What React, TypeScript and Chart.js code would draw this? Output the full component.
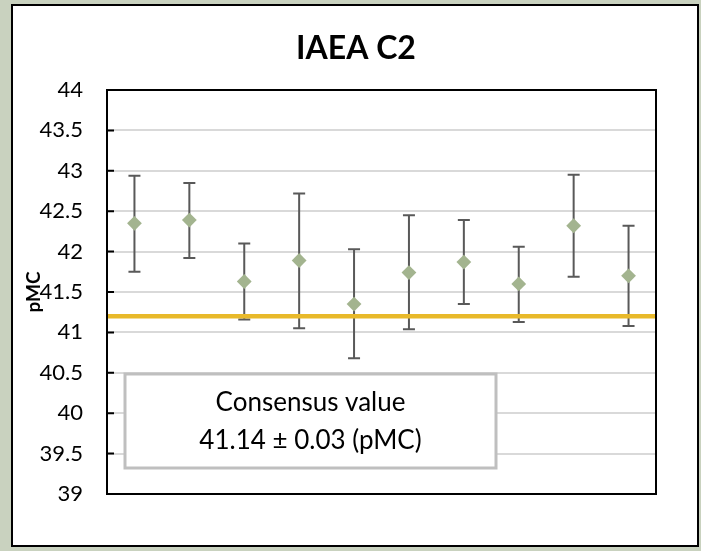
import { useEffect, useRef } from 'react';
import { Chart, registerables } from 'chart.js';

Chart.register(...registerables);

const categories = ['1', '2', '3', '4', '5', '6', '7', '8', '9', '10'];
const meanValues = [42.35, 42.39, 41.63, 41.89, 41.35, 41.74, 41.87, 41.6, 42.32, 41.7];
const upperValues = [42.94, 42.85, 42.1, 42.72, 42.03, 42.45, 42.39, 42.06, 42.95, 42.32];
const lowerValues = [41.75, 41.92, 41.16, 41.05, 40.68, 41.04, 41.35, 41.13, 41.69, 41.08];
const consensusLevel = 41.2;
const yTickValues = [39, 39.5, 40, 40.5, 41, 41.5, 42, 42.5, 43, 43.5, 44];
const titleText = 'IAEA C2';
const yAxisLabel = 'pMC';
const boxLines = ['Consensus value', '41.14 ± 0.03 (pMC)'];

const FONT = 'Lato, "Open Sans", "DejaVu Sans", sans-serif';

const decorPlugin = {
  id: 'decor',
  beforeDraw(chart: any) {
    const { ctx, width, height } = chart;
    ctx.save();
    ctx.fillStyle = '#c9d2bf';
    ctx.fillRect(0, 0, width, height);
    ctx.fillStyle = '#ffffff';
    ctx.fillRect(12, 5, 686, 541);
    ctx.strokeStyle = '#000000';
    ctx.lineWidth = 2;
    ctx.strokeRect(12, 5, 686, 541);
    ctx.restore();
  },
  beforeDatasetsDraw(chart: any) {
    const { ctx, chartArea: a, scales } = chart;
    const x = scales.x;
    const y = scales.y;
    ctx.save();
    ctx.strokeStyle = '#595959';
    ctx.lineWidth = 2;
    meanValues.forEach((_, i) => {
      const px = x.getPixelForValue(i);
      const yt = y.getPixelForValue(upperValues[i]);
      const yb = y.getPixelForValue(lowerValues[i]);
      ctx.beginPath();
      ctx.moveTo(px, yt);
      ctx.lineTo(px, yb);
      ctx.moveTo(px - 6, yt);
      ctx.lineTo(px + 6, yt);
      ctx.moveTo(px - 6, yb);
      ctx.lineTo(px + 6, yb);
      ctx.stroke();
    });
    const cy = y.getPixelForValue(consensusLevel);
    ctx.strokeStyle = '#e8b92a';
    ctx.lineWidth = 4.5;
    ctx.beginPath();
    ctx.moveTo(a.left, cy);
    ctx.lineTo(a.right, cy);
    ctx.stroke();
    ctx.restore();
  },
  afterDatasetsDraw(chart: any) {
    const { ctx, chartArea: a, scales } = chart;
    const y = scales.y;
    ctx.save();
    ctx.strokeStyle = '#000000';
    ctx.lineWidth = 2;
    ctx.strokeRect(a.left, a.top, a.right - a.left, a.bottom - a.top);
    ctx.beginPath();
    yTickValues.forEach((v) => {
      const py = y.getPixelForValue(v);
      ctx.moveTo(a.left, py);
      ctx.lineTo(a.left + 7, py);
    });
    ctx.stroke();
    const bl = a.left + 18;
    const br = a.left + 389;
    const bt = a.top + 284;
    const bb = a.top + 378;
    ctx.fillStyle = '#ffffff';
    ctx.fillRect(bl, bt, br - bl, bb - bt);
    ctx.strokeStyle = '#bfbfbf';
    ctx.lineWidth = 3;
    ctx.strokeRect(bl, bt, br - bl, bb - bt);
    ctx.fillStyle = '#000000';
    ctx.font = `26px ${FONT}`;
    ctx.textAlign = 'center';
    ctx.textBaseline = 'middle';
    const cx = (bl + br) / 2;
    ctx.fillText(boxLines[0], cx, bt + 29);
    ctx.fillText(boxLines[1], cx, bt + 67);
    ctx.restore();
  },
};

export default function App() {
  const ref = useRef<HTMLCanvasElement>(null);
  useEffect(() => {
    const canvas = ref.current!;
    const chart = new Chart(canvas, {
      type: 'line',
      data: {
        labels: categories,
        datasets: [
          {
            data: meanValues,
            showLine: false,
            pointStyle: 'rectRot',
            pointRadius: 7.4,
            pointHoverRadius: 7.4,
            pointBackgroundColor: '#a3b48f',
            pointBorderColor: '#a3b48f',
            pointBorderWidth: 0,
          },
        ],
      },
      options: {
        responsive: false,
        animation: false,
        devicePixelRatio: 1,
        events: [],
        layout: { padding: { left: 14, right: 3, top: 5, bottom: 57 } },
        plugins: {
          legend: { display: false },
          tooltip: { enabled: false },
          title: {
            display: true,
            text: titleText,
            color: '#000000',
            font: { family: FONT, size: 32, weight: 'bold' },
            padding: { top: 24.8, bottom: 21.8 },
          },
        },
        scales: {
          x: {
            type: 'category',
            offset: true,
            ticks: { display: false },
            grid: { display: false, drawTicks: false },
            border: { display: false },
            afterFit: (s: any) => {
              s.height = 0;
            },
          },
          y: {
            type: 'linear',
            min: 39,
            max: 44,
            afterBuildTicks: (s: any) => {
              s.ticks = yTickValues.map((v) => ({ value: v }));
            },
            ticks: {
              padding: 24,
              color: '#000000',
              font: { family: FONT, size: 22 },
              callback: (v: any) => String(v),
            },
            grid: { color: '#d9d9d9', lineWidth: 2, drawTicks: false },
            border: { display: false },
            title: {
              display: true,
              text: yAxisLabel,
              color: '#000000',
              font: { family: FONT, size: 19, weight: 'bold' },
              padding: { top: 8, bottom: 0 },
            },
            afterFit: (s: any) => {
              s.width = 93;
            },
          },
          yR: {
            type: 'linear',
            position: 'right',
            display: true,
            ticks: { display: false },
            grid: { display: false, drawTicks: false },
            border: { display: false },
            afterFit: (s: any) => {
              s.width = 42;
            },
          },
        },
      } as any,
      plugins: [decorPlugin],
    });
    return () => chart.destroy();
  }, []);

  return (
    <div style={{ position: 'absolute', left: 0, top: 0, width: 701, height: 551 }}>
      <canvas ref={ref} width={701} height={551} style={{ display: 'block', width: 701, height: 551 }} />
    </div>
  );
}
